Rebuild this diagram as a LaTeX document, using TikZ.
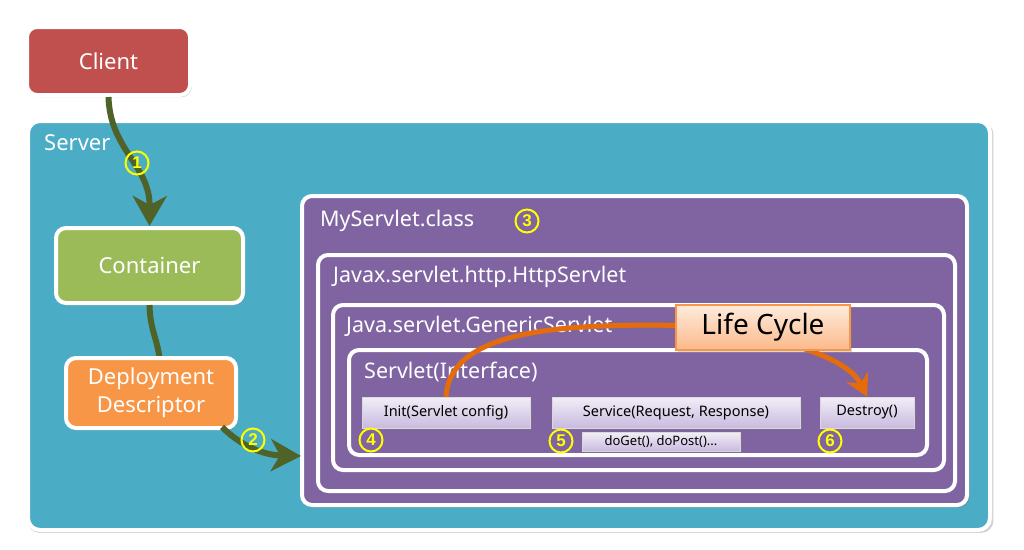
\documentclass[tikz,border=0pt]{standalone}
\usepackage{fontspec}
\setmainfont{Noto Sans}
\newfontfamily\numfont{Liberation Sans}
\usetikzlibrary{arrows.meta,shadows}
\definecolor{cred}{HTML}{C0504D}
\definecolor{cteal}{HTML}{4BACC6}
\definecolor{cgreen}{HTML}{9BBB59}
\definecolor{corange}{HTML}{F79646}
\definecolor{cpurple}{HTML}{8064A2}
\definecolor{colive}{HTML}{4F6228}
\definecolor{carrow}{HTML}{E46C0A}
\definecolor{cnum}{HTML}{FFFF00}
\definecolor{lavtop}{HTML}{F2EEF7}
\definecolor{lavbot}{HTML}{C9BADF}
\definecolor{lctop}{HTML}{FEEBDC}
\definecolor{lcbot}{HTML}{FBB98A}
\begin{document}
\begin{tikzpicture}[x=1pt,y=-1pt,
  shad/.style={drop shadow={opacity=0.35, shadow xshift=1.5pt, shadow yshift=-2pt, shadow scale=1.004}},
  box/.style={rectangle, rounded corners=10pt, draw=white, line width=4pt, text=white,
    inner sep=0pt, align=center, shad,
    font=\fontsize{22}{27}\selectfont},
  frame/.style={rectangle, rounded corners=10pt, draw=white, line width=4pt, fill=cpurple, inner sep=0pt},
  title/.style={anchor=west, text=white, inner sep=0pt, font=\fontsize{21.5}{26}\selectfont},
  method/.style={rectangle, draw=white!85!black, line width=0.4pt, top color=lavtop, bottom color=lavbot,
    inner sep=0pt, text=black, font=\fontsize{14.5}{17}\selectfont,
    drop shadow={opacity=0.35, shadow xshift=2pt, shadow yshift=-2pt}},
  num/.style={circle, draw=cnum, line width=2pt, text=cnum, inner sep=0pt, minimum size=23pt,
    font=\numfont\bfseries\fontsize{17}{17}\selectfont},
  greenarrow/.style={draw=colive, line width=6pt},
]
\useasboundingbox (0,0) rectangle (1024,549);
\fill[white] (0,0) rectangle (1024,549);

% server
\node[box, fill=cteal, rounded corners=12pt, minimum width=962pt, minimum height=409pt] (server) at (509,325.5) {};
\node[title, font=\fontsize{22}{26}\selectfont] (servertxt) at (44,143) {Server};

% class frames
\node[frame, shad, minimum width=665pt, minimum height=309pt] (myservlet) at (634.5,350.5) {};
\node[title] (mytxt) at (320,221) {MyServlet.class};
\node[frame, minimum width=637pt, minimum height=236pt] (http) at (636.5,373) {};
\node[title] (httptxt) at (333,277) {Javax.servlet.http.HttpServlet};
\node[frame, minimum width=611pt, minimum height=165pt] (generic) at (638.5,387.5) {};
\node[title] (generictxt) at (346,326) {Java.servlet.GenericServlet};
\node[frame, minimum width=578pt, minimum height=105pt] (iface) at (638,402.5) {};
\node[title] (ifacetxt) at (364,372) {Servlet(Interface)};

% methods
\node[method, minimum width=168pt, minimum height=31pt] (init) at (446,412.5) {Init(Servlet config)};
\node[method, minimum width=248pt, minimum height=31pt] (service) at (676,412.5) {Service(Request,\ Response)};
\node[method, minimum width=94pt, minimum height=31pt] (destroy) at (867,412.5) {Destroy()};
\node[method, minimum width=158pt, minimum height=19pt, font=\fontsize{13}{14}\selectfont] (doget) at (661,441.5) {doGet(), doPost()...};

% client / container / DD
\node[box, fill=cred, minimum width=163pt, minimum height=68pt] (client) at (108.5,61) {Client};
\node[box, fill=cgreen, minimum width=187pt, minimum height=75pt] (container) at (149.5,265.5) {Container};
\coordinate (ddtop) at (160,362);
\draw[greenarrow] (container.south) .. controls (150,330) and (158,340) .. (ddtop);
\node[box, fill=corange, minimum width=170pt, minimum height=70pt, font=\fontsize{22}{28}\selectfont] (dd) at (151,393) {Deployment\\Descriptor};

% green arrows
\draw[greenarrow, -{Stealth[length=30pt,width=34pt,inset=9pt]}] (client.south) .. controls (110,150) and (150,165) .. (container.north);
\coordinate (a2end) at (301,456);
\draw[greenarrow, -{Stealth[length=30pt,width=32pt,inset=9pt]}] (222,427) .. controls (240,445) and (262,455) .. (a2end);

% life cycle arrow
\draw[draw=carrow, line width=5pt, -{Stealth[length=22pt,width=24pt,inset=7pt]}]
  (init.north) .. controls (450,330) and (560,322) .. (700,326)
  .. controls (760,335) and (845,352) .. (destroy.north);
\node[rectangle, draw=corange, line width=1.2pt, top color=lctop, bottom color=lcbot,
  minimum width=174pt, minimum height=45pt, inner sep=0pt, text=black,
  font=\fontsize{28}{30}\selectfont,
  drop shadow={opacity=0.3, shadow xshift=2pt, shadow yshift=-2pt}] (lifecycle) at (763,327.5) {Life Cycle};

% numbers
\node[num] (n1) at (137,163) {1};
\node[num] (n2) at (253,440) {2};
\node[num] (n3) at (527,221) {3};
\node[num] (n4) at (371,440) {4};
\node[num] (n5) at (561,441) {5};
\node[num] (n6) at (830,441) {6};
\end{tikzpicture}
\end{document}
